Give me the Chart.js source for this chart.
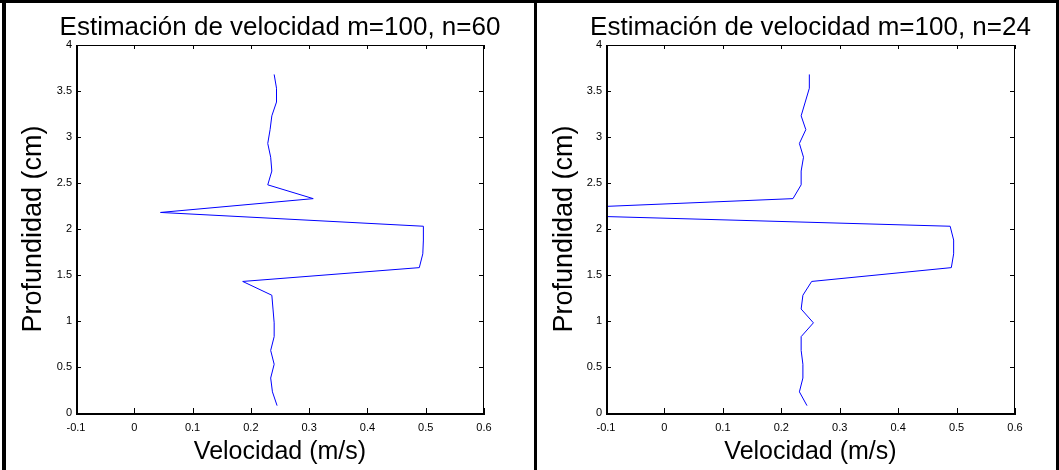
<!DOCTYPE html>
<html>
<head>
<meta charset="utf-8">
<script src="https://cdn.jsdelivr.net/npm/chart.js@4.4.1/dist/chart.umd.min.js"></script>
<style>
  html, body { margin: 0; padding: 0; background: #fff; }
  body { width: 1059px; height: 470px; position: relative; overflow: hidden; }
  .panel { position: absolute; top: 0; height: 470px; }
  .linea { position: absolute; background: #000; }
</style>
</head>
<body>
<div class="linea" style="left:0;top:0;width:1059px;height:3px"></div>
<div class="linea" style="left:2px;top:0;width:4px;height:470px"></div>
<div class="linea" style="left:534px;top:0;width:3px;height:470px"></div>
<div class="linea" style="left:1056px;top:0;width:3px;height:470px"></div>
<div class="panel" style="left:0;width:534px"><canvas id="chartN60"></canvas></div>
<div class="panel" style="left:537px;width:522px"><canvas id="chartN24"></canvas></div>
<script>
// profundidad (cm) de cada punto, igual en las dos graficas
var profundidad = [0.08, 0.23, 0.38, 0.53, 0.68, 0.83, 0.98, 1.13, 1.28, 1.43, 1.58, 1.73, 1.88,
	2.03, 2.18, 2.33, 2.48, 2.63, 2.78, 2.93, 3.08, 3.23, 3.38, 3.53, 3.68];
// velocidad (m/s) estimada
var velocidadN60 = [0.245, 0.237, 0.234, 0.240, 0.234, 0.240, 0.240, 0.238, 0.236, 0.186, 0.489, 0.495, 0.496,
	0.496, 0.045, 0.307, 0.229, 0.236, 0.234, 0.229, 0.233, 0.236, 0.244, 0.244, 0.240];
var velocidadN24 = [0.244, 0.231, 0.237, 0.237, 0.234, 0.234, 0.255, 0.234, 0.237, 0.252, 0.491, 0.495, 0.495,
	0.489, -0.35, 0.220, 0.234, 0.234, 0.238, 0.231, 0.242, 0.234, 0.241, 0.248, 0.248];
var ticksVelocidad = [-0.1, 0, 0.1, 0.2, 0.3, 0.4, 0.5, 0.6];
var ticksProfundidad = [0, 0.5, 1, 1.5, 2, 2.5, 3, 3.5, 4];
var titulos = ["Estimación de velocidad m=100, n=60", "Estimación de velocidad m=100, n=24"];
var tituloX = "Velocidad (m/s)";
var tituloY = "Profundidad (cm)";

var fuente = "'Liberation Sans', Arial, Helvetica, sans-serif";
Chart.defaults.font.family = fuente;
Chart.defaults.color = "#000";

// caja tipo matlab: ejes con marcas hacia dentro en los cuatro lados, y el titulo
var marcoPlugin = {
	id: 'marco',
	afterDraw: function(chart, args, opts) {
		var ctx = chart.ctx, a = chart.chartArea;
		var sx = chart.scales.x, sy = chart.scales.y;
		ctx.save();
		ctx.strokeStyle = "#000";
		ctx.lineWidth = 1;
		ctx.beginPath();
		ctx.moveTo(a.left, a.top + 0.5); ctx.lineTo(a.right, a.top + 0.5);
		ctx.moveTo(a.right - 0.5, a.top); ctx.lineTo(a.right - 0.5, a.bottom);
		ticksVelocidad.forEach(function(v) {
			var px = Math.round(sx.getPixelForValue(v)) + 0.5;
			ctx.moveTo(px, a.bottom); ctx.lineTo(px, a.bottom - 5);
			ctx.moveTo(px, a.top); ctx.lineTo(px, a.top + 4);
		});
		ticksProfundidad.forEach(function(v) {
			var py = Math.round(sy.getPixelForValue(v)) + 0.5;
			ctx.moveTo(a.left, py); ctx.lineTo(a.left + 5, py);
			ctx.moveTo(a.right, py); ctx.lineTo(a.right - 5, py);
		});
		ctx.stroke();
		ctx.lineWidth = 2;
		ctx.beginPath();
		ctx.moveTo(a.left + 1, a.top); ctx.lineTo(a.left + 1, a.bottom + 1);
		ctx.lineTo(a.right + 1, a.bottom + 1);
		ctx.stroke();

		// titulo centrado sobre la caja (puede salirse de ella, como en matlab)
		ctx.fillStyle = "#000";
		ctx.font = "26px " + fuente;
		ctx.textAlign = "center";
		ctx.textBaseline = "alphabetic";
		ctx.fillText(opts.texto, (a.left + a.right) / 2, 35);
		ctx.restore();
	}
};

function etiqueta(v) { return String(v); }

function crearGrafica(id, titulo, velocidad, anchoY, margenDer, padTituloY) {
	var puntos = profundidad.map(function(p, i) { return {x: velocidad[i], y: p}; });
	return new Chart(document.getElementById(id), {
		type: 'scatter',
		data: {
			datasets: [{
				data: puntos,
				showLine: true,
				borderColor: "#0000ff",
				backgroundColor: "#0000ff",
				borderWidth: 1,
				pointRadius: 0,
				tension: 0
			}]
		},
		options: {
			responsive: true,
			maintainAspectRatio: false,
			animation: false,
			layout: { padding: { left: 0, right: margenDer, top: 45, bottom: 0 } },
			plugins: {
				legend: { display: false },
				tooltip: { enabled: false },
				title: { display: false },
				marco: { texto: titulo }
			},
			scales: {
				x: {
					type: 'linear',
					min: -0.1, max: 0.6,
					grid: { display: false, drawTicks: false },
					border: { display: false },
					afterBuildTicks: function(s) { s.ticks = ticksVelocidad.map(function(v) { return {value: v}; }); },
					afterFit: function(s) { s.height = 57; },
					ticks: { font: { size: 11 }, padding: 8, maxRotation: 0, autoSkip: false, callback: etiqueta },
					title: { display: true, text: tituloX, font: { size: 25 }, padding: { top: 0, bottom: 3 } }
				},
				y: {
					type: 'linear',
					min: 0, max: 4,
					grid: { display: false, drawTicks: false },
					border: { display: false },
					afterBuildTicks: function(s) { s.ticks = ticksProfundidad.map(function(v) { return {value: v}; }); },
					afterFit: function(s) { s.width = anchoY; },
					ticks: { font: { size: 11 }, padding: 4, autoSkip: false, callback: etiqueta },
					title: { display: true, text: tituloY, font: { size: 27 }, padding: { top: padTituloY, bottom: 0 } }
				}
			}
		},
		plugins: [marcoPlugin]
	});
}

var grafN60 = crearGrafica("chartN60", titulos[0], velocidadN60, 76, 50, 17);
var grafN24 = crearGrafica("chartN24", titulos[1], velocidadN24, 69, 44, 11);
</script>
</body>
</html>
